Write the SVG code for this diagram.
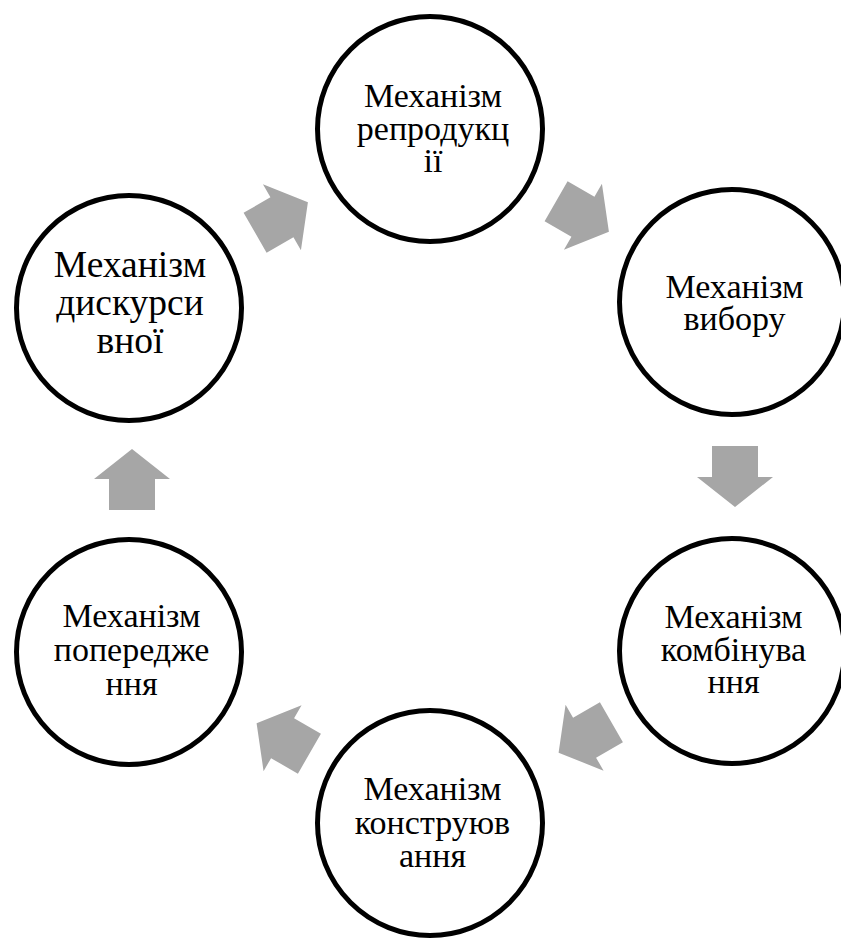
<svg xmlns="http://www.w3.org/2000/svg" width="841" height="942" viewBox="0 0 841 942">
<style>
.c{fill:#fff;stroke:#000;stroke-width:5}
.t{font-family:"Liberation Serif","Times New Roman",serif;font-size:34px;fill:#000;text-anchor:middle}
.tb{font-size:37.5px}
.a{fill:#a6a6a6}
</style>
<defs>
<polygon id="arr" points="-30.5,-23 0.5,-23 0.5,-38 30.5,0 0.5,38 0.5,23 -30.5,23"/>
</defs>
<rect width="841" height="942" fill="#fff"/>
<g id="connectors" class="a">
<use href="#arr" transform="translate(281.5,217.5) rotate(-30)"/>
<use href="#arr" transform="translate(582.5,216.5) rotate(30)"/>
<use href="#arr" transform="translate(735,476.5) rotate(90)"/>
<use href="#arr" transform="translate(585,737.5) rotate(150)"/>
<use href="#arr" transform="translate(283,738.5) rotate(210)"/>
<use href="#arr" transform="translate(132,479.5) rotate(270)"/>
</g>
<g id="n-reproduktsii">
<circle class="c" cx="430" cy="129" r="112.5"/>
<text class="t" x="433" y="107">Механізм</text>
<text class="t" x="433" y="140">репродукц</text>
<text class="t" x="433" y="172">ії</text>
</g>
<g id="n-vyboru">
<circle class="c" cx="732" cy="302" r="112.5"/>
<text class="t" x="734.5" y="298">Механізм</text>
<text class="t" x="734.5" y="330">вибору</text>
</g>
<g id="n-kombinuvannia">
<circle class="c" cx="732" cy="651" r="112.5"/>
<text class="t" x="733.5" y="628">Механізм</text>
<text class="t" x="733.5" y="661">комбінува</text>
<text class="t" x="733.5" y="693">ння</text>
</g>
<g id="n-konstruiuvannia">
<circle class="c" cx="430" cy="823" r="112.5"/>
<text class="t" x="432.5" y="800">Механізм</text>
<text class="t" x="432.5" y="834">конструюв</text>
<text class="t" x="432.5" y="867">ання</text>
</g>
<g id="n-poperedzhennia">
<circle class="c" cx="129" cy="652" r="112.5"/>
<text class="t" x="131.5" y="627">Механізм</text>
<text class="t" x="131.5" y="661">попередже</text>
<text class="t" x="131.5" y="695">ння</text>
</g>
<g id="n-dyskursyvnoi">
<circle class="c" cx="129" cy="308" r="112.5"/>
<text class="t tb" x="130" y="277">Механізм</text>
<text class="t tb" x="130" y="315">дискурси</text>
<text class="t tb" x="130" y="353">вної</text>
</g>
</svg>
